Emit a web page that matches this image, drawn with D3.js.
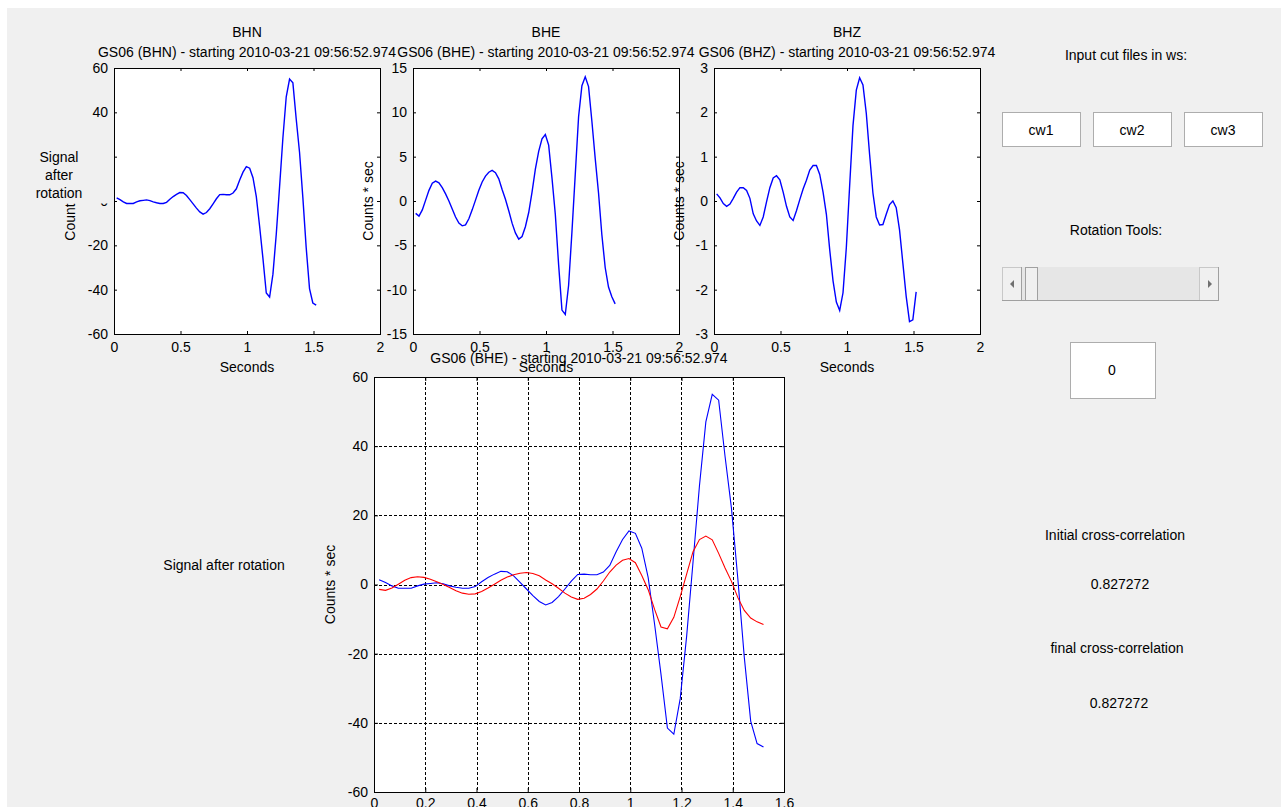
<!DOCTYPE html>
<html><head><meta charset="utf-8">
<script src="https://cdn.jsdelivr.net/npm/d3@7"></script>
<style>
html,body{margin:0;padding:0;background:#fff;overflow:hidden;}
svg{display:block;}
text{font-family:"Liberation Sans",Arial,sans-serif;font-size:14px;fill:#000;}
</style></head><body>
<svg id="fig" width="1281" height="807"></svg>
<script>
// ---- data ----
const t0 = 0.02, dt = 0.025;
const bhn = [1.4,0.6,-0.4,-1.1,-1.1,-1.1,-0.4,0.1,0.3,0.5,
  0.2,-0.4,-0.8,-1.1,-1.1,-0.6,0.8,2.0,3.0,3.8,
  3.7,2.5,0.6,-1.3,-3.2,-4.9,-5.9,-5.2,-3.5,-1.3,
  1.0,2.9,3.0,2.8,2.8,3.6,5.5,9.5,13.0,15.5,
  14.8,10.5,2.0,-11.5,-26,-41.5,-43.3,-33,-15,6.5,
  28.5,47,55,53.3,37,22,1.5,-21,-39.5,-46,-47];
const bhe = [-1.4,-1.7,-1.0,0.1,1.2,2.0,2.25,2.05,1.5,0.8,
  0.0,-0.9,-1.8,-2.5,-2.8,-2.7,-2.0,-1.0,0.1,1.2,
  2.15,2.8,3.25,3.45,3.2,2.5,1.3,0.2,-1.1,-2.5,
  -3.6,-4.3,-4.0,-2.9,-1.3,1.0,3.6,5.6,7.0,7.5,
  6.3,2.6,-1.5,-7.2,-12.3,-12.8,-9.5,-3.5,3.0,9.5,
  13.0,14.0,12.9,9.0,4.8,0.9,-3.8,-7.5,-9.7,-10.8,-11.6];
const bhz = [0.16,0.07,-0.06,-0.12,-0.07,0.06,0.2,0.3,0.3,0.24,
  0.06,-0.29,-0.45,-0.55,-0.36,-0.02,0.3,0.52,0.57,0.48,
  0.2,-0.12,-0.36,-0.44,-0.22,0.03,0.27,0.47,0.7,0.8,
  0.8,0.6,0.2,-0.3,-1.1,-1.8,-2.28,-2.47,-2.07,-1.05,
  0.35,1.7,2.5,2.78,2.62,1.98,1.05,0.18,-0.36,-0.54,
  -0.53,-0.3,-0.08,0.0,-0.15,-0.65,-1.4,-2.15,-2.72,-2.68,-2.05];
const time = bhn.map((_, i) => t0 + i * dt);

const channels = ["BHN", "BHE", "BHZ"];
const subtitles = ["GS06 (BHN) - starting 2010-03-21 09:56:52.974",
                   "GS06 (BHE) - starting 2010-03-21 09:56:52.974",
                   "GS06 (BHZ) - starting 2010-03-21 09:56:52.974"];
const bottomTitle = "GS06 (BHE) - starting 2010-03-21 09:56:52.974";
const topXTicks = [0, 0.5, 1, 1.5, 2];
const topXLabels = ["0", "0.5", "1", "1.5", "2"];
const bhnYTicks = [-60, -40, -20, 0, 20, 40, 60];
const bhnYLabels = ["-60", "-40", "-20", "0", "20", "40", "60"];
const bheYTicks = [-15, -10, -5, 0, 5, 10, 15];
const bheYLabels = ["-15", "-10", "-5", "0", "5", "10", "15"];
const bhzYTicks = [-3, -2, -1, 0, 1, 2, 3];
const bhzYLabels = ["-3", "-2", "-1", "0", "1", "2", "3"];
const botXTicks = [0, 0.2, 0.4, 0.6, 0.8, 1, 1.2, 1.4, 1.6];
const botXLabels = ["0", "0.2", "0.4", "0.6", "0.8", "1", "1.2", "1.4", "1.6"];
const botYTicks = [-60, -40, -20, 0, 20, 40, 60];
const botYLabels = ["-60", "-40", "-20", "0", "20", "40", "60"];
const buttonLabels = ["cw1", "cw2", "cw3"];
const sliderValue = "0";
const initialCorr = "0.827272";
const finalCorr = "0.827272";

// ---- drawing ----
const svg = d3.select("#fig");
svg.append("rect").attr("x", 7).attr("y", 8).attr("width", 1274).attr("height", 799).attr("fill", "#f0f0f0");

function drawAxes(cfg) {
  const g = svg.append("g");
  const xs = d3.scaleLinear().domain(cfg.xDomain).range([cfg.x, cfg.x + cfg.w]);
  const ys = d3.scaleLinear().domain(cfg.yDomain).range([cfg.y + cfg.h, cfg.y]);
  g.append("rect").attr("x", cfg.x + 0.5).attr("y", cfg.y + 0.5)
    .attr("width", cfg.w).attr("height", cfg.h).attr("fill", "#fff");
  if (cfg.grid) {
    g.append("g").selectAll("line").data(cfg.xTicks.slice(1, -1)).join("line")
      .attr("x1", d => Math.round(xs(d)) + 0.5).attr("x2", d => Math.round(xs(d)) + 0.5)
      .attr("y1", cfg.y).attr("y2", cfg.y + cfg.h)
      .attr("stroke", "#000").attr("stroke-dasharray", "3,2");
    g.append("g").selectAll("line").data(cfg.yTicks.slice(1, -1)).join("line")
      .attr("y1", d => Math.round(ys(d)) + 0.5).attr("y2", d => Math.round(ys(d)) + 0.5)
      .attr("x1", cfg.x).attr("x2", cfg.x + cfg.w)
      .attr("stroke", "#000").attr("stroke-dasharray", "3,2");
  }
  const line = d3.line().x((d, i) => xs(time[i])).y(d => ys(d));
  cfg.series.forEach(s => {
    g.append("path").datum(s.values).attr("d", line)
      .attr("fill", "none").attr("stroke", s.color).attr("stroke-width", cfg.lw);
  });
  const tl = cfg.tickLen;
  const ax = (gen, tr) => {
    const a = g.append("g").attr("transform", tr).call(gen);
    a.select(".domain").remove();
    a.attr("font-size", null).attr("font-family", null);
    return a;
  };
  ax(d3.axisBottom(xs).tickValues(cfg.xTicks).tickFormat((d, i) => cfg.xLabels[i])
      .tickSizeInner(-tl).tickSizeOuter(0).tickPadding(cfg.xPad), `translate(0,${cfg.y + cfg.h})`);
  ax(d3.axisTop(xs).tickValues(cfg.xTicks).tickFormat("")
      .tickSizeInner(-tl).tickSizeOuter(0), `translate(0,${cfg.y})`);
  ax(d3.axisLeft(ys).tickValues(cfg.yTicks).tickFormat((d, i) => cfg.yLabels[i])
      .tickSizeInner(-tl).tickSizeOuter(0).tickPadding(6), `translate(${cfg.x},0)`);
  ax(d3.axisRight(ys).tickValues(cfg.yTicks).tickFormat("")
      .tickSizeInner(-tl).tickSizeOuter(0), `translate(${cfg.x + cfg.w},0)`);
  g.append("rect").attr("x", cfg.x + 0.5).attr("y", cfg.y + 0.5)
    .attr("width", cfg.w).attr("height", cfg.h).attr("fill", "none").attr("stroke", "#000");
  return g;
}

const topLefts = [114, 413, 714];
const topYl = [70, 368, 679];
const topData = [bhn, bhe, bhz];
const topYT = [bhnYTicks, bheYTicks, bhzYTicks];
const topYL = [bhnYLabels, bheYLabels, bhzYLabels];
const topW = 266, topTop = 68, topH = 266;

topLefts.forEach((x0, k) => {
  const yt = topYT[k];
  drawAxes({x: x0, y: topTop, w: topW, h: topH, xDomain: [0, 2], yDomain: [yt[0], yt[yt.length - 1]],
    xTicks: topXTicks, xLabels: topXLabels, yTicks: yt, yLabels: topYL[k],
    tickLen: 3, xPad: 8, lw: 1.4, grid: false,
    series: [{values: topData[k], color: "#0000ff"}]});
  const cx = x0 + topW / 2;
  svg.append("text").attr("x", cx).attr("y", 37).attr("text-anchor", "middle").text(channels[k]);
  svg.append("text").attr("x", cx).attr("y", 57).attr("text-anchor", "middle").text(subtitles[k]);
  svg.append("text").attr("x", cx).attr("y", 372).attr("text-anchor", "middle").text("Seconds");
  svg.append("text").attr("transform", `translate(${topYl[k]},${topTop + topH / 2}) rotate(-90)`)
    .attr("dy", "0.35em").attr("text-anchor", "middle").text("Counts * sec");
  if (k === 0) {
    svg.append("rect").attr("x", 8).attr("y", 140).attr("width", 103).attr("height", 63.5).attr("fill", "#f0f0f0");
    ["Signal", "after", "rotation"].forEach((s, j) => {
      svg.append("text").attr("x", 59).attr("y", 162 + j * 18).attr("text-anchor", "middle").text(s);
    });
  }
});

// bottom plot
drawAxes({x: 374, y: 377, w: 410, h: 415, xDomain: [0, 1.6], yDomain: [-60, 60],
  xTicks: botXTicks, xLabels: botXLabels, yTicks: botYTicks, yLabels: botYLabels,
  tickLen: 4, xPad: 6, lw: 1.1, grid: true,
  series: [{values: bhn, color: "#0000ff"}, {values: bhe, color: "#ff0000"}]});
svg.append("text").attr("x", 579).attr("y", 363).attr("text-anchor", "middle").text(bottomTitle);
svg.append("text").attr("transform", `translate(330,${377 + 415 / 2}) rotate(-90)`)
  .attr("dy", "0.35em").attr("text-anchor", "middle").text("Counts * sec");
svg.append("text").attr("x", 224).attr("y", 570).attr("text-anchor", "middle").text("Signal after rotation");

// right panel controls
svg.append("text").attr("x", 1126).attr("y", 60).attr("text-anchor", "middle").text("Input cut files in ws:");
const btnX = [1002, 1093, 1184];
buttonLabels.forEach((b, i) => {
  svg.append("rect").attr("x", btnX[i] + 0.5).attr("y", 112.5).attr("width", 78).attr("height", 34)
    .attr("fill", "#fff").attr("stroke", "#adadad");
  svg.append("text").attr("x", btnX[i] + 39).attr("y", 135).attr("text-anchor", "middle").text(b);
});
svg.append("text").attr("x", 1116).attr("y", 235).attr("text-anchor", "middle").text("Rotation Tools:");
// slider
const sl = svg.append("g");
sl.append("rect").attr("x", 1002).attr("y", 267).attr("width", 217).attr("height", 34).attr("fill", "#e6e6e6");
sl.append("rect").attr("x", 1002.5).attr("y", 267.5).attr("width", 19).attr("height", 33).attr("fill", "#f0f0f0").attr("stroke", "#c8c8c8");
sl.append("rect").attr("x", 1199.5).attr("y", 267.5).attr("width", 19).attr("height", 33).attr("fill", "#f0f0f0").attr("stroke", "#c8c8c8");
sl.append("rect").attr("x", 1025.5).attr("y", 267.5).attr("width", 12).attr("height", 33).attr("fill", "#f0f0f0").attr("stroke", "#a0a0a0");
sl.append("line").attr("x1", 1002).attr("x2", 1219).attr("y1", 300.5).attr("y2", 300.5).attr("stroke", "#a0a0a0");
sl.append("line").attr("x1", 1218.5).attr("x2", 1218.5).attr("y1", 267).attr("y2", 301).attr("stroke", "#a0a0a0");
sl.append("line").attr("x1", 1021.5).attr("x2", 1021.5).attr("y1", 267).attr("y2", 301).attr("stroke", "#a0a0a0");
sl.append("path").attr("d", "M1010,284 L1014,280 L1014,288 Z").attr("fill", "#707070");
sl.append("path").attr("d", "M1212,284 L1208,280 L1208,288 Z").attr("fill", "#707070");
// value box
svg.append("rect").attr("x", 1070.5).attr("y", 342.5).attr("width", 85).attr("height", 56)
  .attr("fill", "#fff").attr("stroke", "#adadad");
svg.append("text").attr("x", 1112).attr("y", 375).attr("text-anchor", "middle").text(sliderValue);
svg.append("text").attr("x", 1115).attr("y", 540).attr("text-anchor", "middle").text("Initial cross-correlation");
svg.append("text").attr("x", 1120).attr("y", 589).attr("text-anchor", "middle").text(initialCorr);
svg.append("text").attr("x", 1117).attr("y", 653).attr("text-anchor", "middle").text("final cross-correlation");
svg.append("text").attr("x", 1119).attr("y", 708).attr("text-anchor", "middle").text(finalCorr);
</script>
</body></html>
